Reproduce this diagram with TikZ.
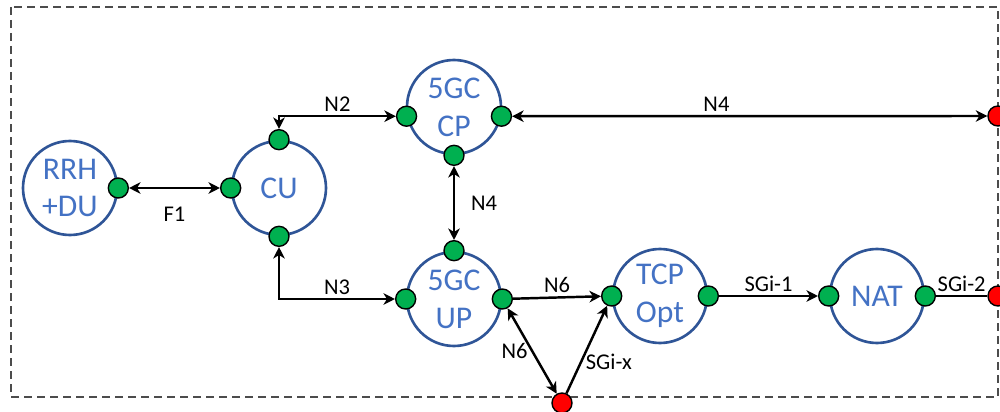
\documentclass[tikz,border=0pt]{standalone}
\usepackage{fontspec}
\setmainfont{Carlito}
\usepackage{xcolor}
\usetikzlibrary{arrows.meta}

\definecolor{nfblue}{HTML}{4472C4}
\definecolor{nfedge}{HTML}{2F5597}
\definecolor{portgreen}{HTML}{00B050}

\begin{document}
\begin{tikzpicture}[
        x=0.2mm, y=-0.2mm,
        >={Stealth[length=2.3mm, width=2.3mm, inset=0.7mm]},
        nf/.style={circle, draw=nfedge, line width=1.5pt, minimum size=18.8mm, inner sep=0pt, align=center, text=nfblue, font=\fontsize{18}{21.5}\selectfont},
        port/.style={circle, draw=black, line width=0.8pt, fill=portgreen, minimum size=4mm, inner sep=0pt},
        ext/.style={port, fill=red},
        lbl/.style={font=\fontsize{12.8}{14}\selectfont, inner sep=2pt},
        arrow/.style={->, line width=1.4pt},
        biarrow/.style={<->, line width=1.4pt},
        frame/.style={draw=black!70, line width=0.8pt, dash pattern=on 1.6mm off 1mm}
    ]
    \useasboundingbox (0,0) rectangle (1000,412);
    \clip (0,0) rectangle (1000,412);
    \draw[frame] (11,7) rectangle (998,397);

    \node[nf] (rrh) at (70,188) {RRH\\+DU};
    \node[nf] (cu) at (279,188) {CU};
    \node[nf] (cp) at (454,107) {5GC\\CP};
    \node[nf] (up) at (454,299) {5GC\\UP};
    \node[nf] (tcp) at (660,296) {TCP\\Opt};
    \node[nf] (nat) at (877,296) {NAT};

    % interfaces on each function
    \node[port] (rrhE) at (rrh.east) {};
    \node[port] (cuW) at (cu.west) {};
    \node[port] (cuN) at (cu.north) {};
    \node[port] (cuS) at (cu.south) {};
    \node[port] (cpW) at (cp.191) {};
    \node[port] (cpE) at (cp.349) {};
    \node[port] (cpS) at (cp.south) {};
    \node[port] (upN) at (up.north) {};
    \node[port] (upW) at (up.west) {};
    \node[port] (upE) at (up.east) {};
    \node[port] (tcpW) at (tcp.west) {};
    \node[port] (tcpE) at (tcp.east) {};
    \node[port] (natW) at (nat.west) {};
    \node[port] (natE) at (nat.east) {};

    % external end points
    \node[ext] (n4ext) at (998,116) {};
    \node[ext] (sgiext) at (998,296) {};
    \node[ext] (sgix) at (562,403) {};

    \draw[biarrow] (rrhE) -- node[lbl, below=8pt] {F1} (cuW);
    \draw[biarrow] (cuN) |- node[lbl, pos=0.75, above] {N2} (cpW);
    \draw[biarrow] (cuS) |- node[lbl, pos=0.75, above] {N3} (upW);
    \draw[biarrow] (cpS) -- node[lbl, right=7pt] {N4} (upN);
    \draw[biarrow] (cpE) -- node[lbl, pos=0.43, above] {N4} (n4ext);
    \draw[arrow] (upE) -- node[lbl, above] {N6} (tcpW);
    \draw[biarrow] (upE) -- node[lbl, left] {N6} (sgix);
    \draw[arrow] (sgix) -- node[lbl, pos=0.36, right] {SGi-x} (tcpW);
    \draw[arrow] (tcpE) -- node[lbl, above] {SGi-1} (natW);
    \draw[line width=1.4pt] (natE) -- node[lbl, above] {SGi-2} (sgiext);
\end{tikzpicture}
\end{document}
